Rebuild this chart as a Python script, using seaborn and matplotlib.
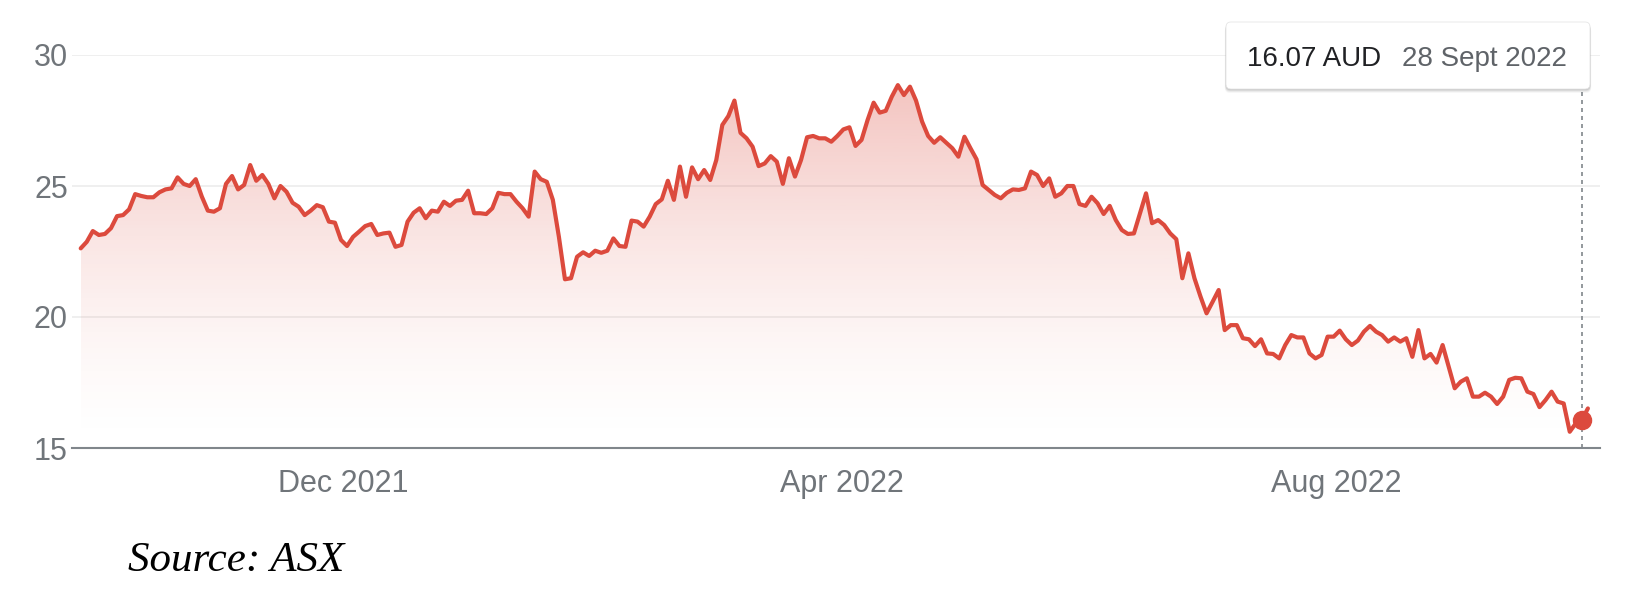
import numpy as np
import pandas as pd
import matplotlib
matplotlib.use("Agg")
import matplotlib.pyplot as plt
import seaborn as sns
from matplotlib.patches import FancyBboxPatch

# daily closing prices (AUD), Sept 2021 - Sept 2022
prices = [
    22.62, 22.87, 23.28, 23.13, 23.17, 23.39, 23.85, 23.89, 24.11, 24.69,
    24.62, 24.57, 24.57, 24.76, 24.87, 24.91, 25.33, 25.08, 25.00, 25.26,
    24.60, 24.06, 24.02, 24.15, 25.08, 25.38, 24.87, 25.04, 25.80, 25.20,
    25.42, 25.08, 24.53, 25.00, 24.78, 24.36, 24.21, 23.89, 24.06, 24.27,
    24.19, 23.64, 23.60,
    22.94, 22.71, 23.06, 23.26, 23.47, 23.55, 23.13, 23.19, 23.22, 22.68,
    22.75, 23.64, 23.98, 24.15, 23.77, 24.06, 24.02, 24.40, 24.24, 24.44,
    24.47, 24.82, 23.96, 23.96, 23.93, 24.15, 24.74, 24.69, 24.69, 24.40,
    24.15, 23.83, 25.55, 25.26, 25.16, 24.47, 23.06, 21.44, 21.48, 22.30,
    22.47, 22.33,
    22.53, 22.45, 22.53, 23.00, 22.71, 22.68, 23.68, 23.64, 23.45, 23.83,
    24.31, 24.49, 25.20, 24.47, 25.74, 24.59, 25.71, 25.26, 25.61, 25.23,
    25.99, 27.33, 27.67, 28.26, 27.03, 26.82, 26.50, 25.76, 25.86, 26.14,
    25.93, 25.08, 26.06, 25.36, 25.99, 26.86, 26.91, 26.82, 26.82, 26.69,
    26.91, 27.16, 27.24, 26.53, 26.76,
    27.52, 28.18, 27.80, 27.87, 28.41, 28.85, 28.47, 28.79, 28.26, 27.46,
    26.91, 26.65, 26.86, 26.65, 26.44, 26.12, 26.88, 26.44, 26.02, 25.04,
    24.85, 24.66, 24.53, 24.74, 24.87, 24.85, 24.91, 25.55, 25.42, 25.00,
    25.29, 24.59, 24.72, 25.00, 25.00, 24.31, 24.24, 24.59, 24.34, 23.93,
    24.24, 23.70, 23.32, 23.17, 23.19, 23.96, 24.72,
    23.58, 23.70, 23.51, 23.19, 22.97, 21.48, 22.43, 21.48, 20.78, 20.14,
    20.58, 21.03, 19.50, 19.69, 19.69,
    19.19, 19.15, 18.89, 19.15, 18.61, 18.59, 18.42, 18.93, 19.31, 19.22,
    19.22, 18.61, 18.42, 18.55, 19.25, 19.25, 19.48, 19.15, 18.93, 19.10,
    19.44, 19.66, 19.44, 19.31, 19.06, 19.22, 19.06, 19.19, 18.48, 19.50,
    18.42, 18.59, 18.26, 18.93, 18.10, 17.28, 17.53, 17.66, 16.96, 16.96,
    17.11, 16.96, 16.68, 16.96, 17.60, 17.68, 17.66, 17.15, 17.06, 16.56,
    16.83, 17.15, 16.77, 16.70, 15.62, 15.94, 16.07, 16.51,
]

# month ticks (position in trading-day index)
tick_pos = [43.3, 125.8, 207.4]
tick_labels = ["Dec 2021", "Apr 2022", "Aug 2022"]
y_ticks = [15, 20, 25, 30]

hover_value = "16.07 AUD"
hover_date = "28 Sept 2022"

df = pd.DataFrame({"idx": np.arange(len(prices)), "price": prices})
hover_idx = len(prices) - 2

RED = "#dc4a3d"
GREY_TXT = "#70757a"

sns.set_style("white")
plt.rcParams["font.family"] = ["Liberation Sans", "DejaVu Sans"]

W, H = 1628, 596
fig = plt.figure(figsize=(W / 100, H / 100), dpi=100)
ax = fig.add_axes([72 / W, (H - 448) / H, 1528 / W, 393 / H])

# gradient fill under the line
ymin, ymax = 15, 30
poly = ax.fill_between(df["idx"], df["price"], ymin, color="none", lw=0)
levels = np.linspace(ymin, ymax, 400)
alpha = 0.33 * np.clip((levels - ymin) / 14, 0, None) ** 1.5
grad = np.zeros((len(levels), 1, 4))
grad[..., :3] = matplotlib.colors.to_rgb(RED)
grad[:, 0, 3] = alpha
img = ax.imshow(grad, extent=[df["idx"].iloc[0], df["idx"].iloc[-1], ymin, ymax],
                origin="lower", aspect="auto", zorder=1, interpolation="bilinear")
img.set_clip_path(poly.get_paths()[0], transform=ax.transData)

sns.lineplot(data=df, x="idx", y="price", color=RED, lw=3.0, ax=ax, zorder=3)

# hover marker + dotted guide
ax.axvline(hover_idx, ymin=0, ymax=(448 - 89) / 393, color="#80868b",
           lw=1.2, ls=(0, (2.4, 2.4)), zorder=2, clip_on=False)
ax.plot(df["idx"].iloc[hover_idx], df["price"].iloc[hover_idx], "o",
        ms=13, color=RED, zorder=4)

ax.set_xlim(-1.44, 251.0)
ax.set_ylim(ymin, ymax)
ax.set_yticks(y_ticks)
ax.set_xticks(tick_pos)
ax.set_xticklabels(tick_labels)
ax.set_xlabel("")
ax.set_ylabel("")

ax.yaxis.grid(True, color="#ebebeb", lw=1.1)
ax.xaxis.grid(False)
for s in ["top", "right", "left"]:
    ax.spines[s].set_visible(False)
ax.spines["bottom"].set_color("#80868b")
ax.spines["bottom"].set_linewidth(1.5)
ax.spines["bottom"].set_zorder(5)

ax.tick_params(axis="y", length=0, pad=3, labelsize=22, labelcolor=GREY_TXT)
ax.tick_params(axis="x", length=11, width=0.9, color="#9aa0a6", pad=4,
               labelsize=22, labelcolor=GREY_TXT)

# tooltip box
inch = fig.dpi_scale_trans
bx, by, bw, bh = 1226, H - 89, 364, 67
for off, a in [(4, 0.03), (3, 0.05), (2, 0.07), (1, 0.09)]:
    fig.add_artist(FancyBboxPatch(((bx - off * 0.3) / 100, (by - off) / 100),
                                  (bw + off * 0.6) / 100, bh / 100,
                                  boxstyle="round,pad=0,rounding_size=0.05",
                                  transform=inch, fc="black", ec="none", alpha=a))
fig.add_artist(FancyBboxPatch((bx / 100, by / 100), bw / 100, bh / 100,
                              boxstyle="round,pad=0,rounding_size=0.05",
                              transform=inch, fc="white", ec="#e6e6e6", lw=0.6))
fig.text(1246.7 / W, (H - 66) / H, hover_value, color="#202124",
         fontsize=20, va="baseline", ha="left")
fig.text(1401.7 / W, (H - 66) / H, hover_date, color="#5f6368",
         fontsize=20, va="baseline", ha="left")

fig.text(128 / W, (H - 571) / H, "Source: ASX", fontsize=31, style="italic",
         family=["Liberation Serif", "DejaVu Serif"], color="black", va="baseline")

fig.savefig("out.png", dpi=100)
